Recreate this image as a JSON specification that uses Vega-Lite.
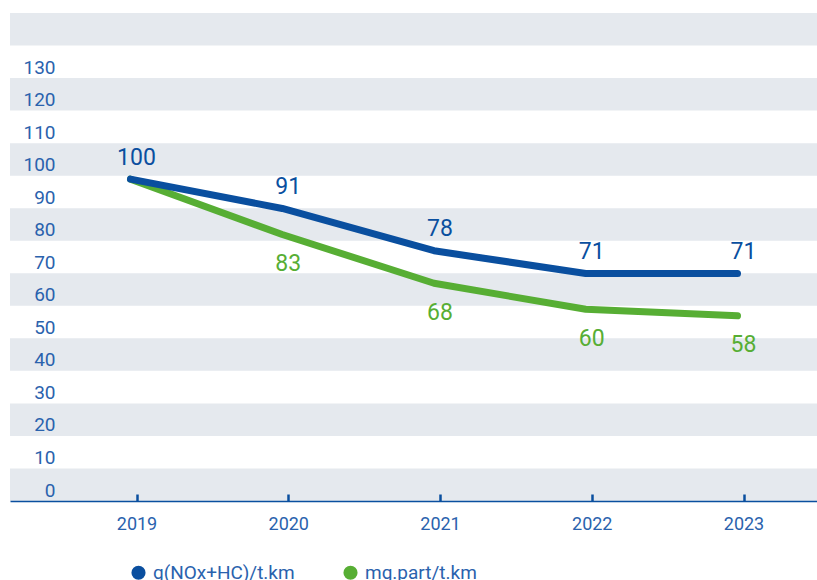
{
  "$schema": "https://vega.github.io/schema/vega-lite/v6.json",
  "width": 807,
  "height": 488,
  "autosize": {"type": "none"},
  "padding": {"left": 10, "top": 13, "right": 0, "bottom": 79},
  "background": "white",
  "config": {
    "view": {"stroke": null},
    "font": "Roboto",
    "text": {"font": "Roboto"},
    "axisY": {
      "domain": false, "ticks": false, "grid": false, "title": null, "labelOverlap": false,
      "labelAlign": "right", "labelPadding": -45, "labelBaseline": "alphabetic", "labelOffset": -5,
      "labelFont": "Roboto", "labelFontSize": 19, "labelColor": "#2a62ad"
    },
    "axisX": {
      "title": null, "grid": false, "labelOverlap": false,
      "domainColor": "#0a4f9f", "domainWidth": 1.5,
      "tickColor": "#0a4f9f", "tickSize": -7, "tickWidth": 2.5,
      "labelFont": "Roboto", "labelFontSize": 18, "labelColor": "#2a62ad", "labelPadding": 21
    }
  },
  "datasets": {
    "bands": [
      {"lo": 0, "hi": 10}, {"lo": 20, "hi": 30}, {"lo": 40, "hi": 50}, {"lo": 60, "hi": 70},
      {"lo": 80, "hi": 90}, {"lo": 100, "hi": 110}, {"lo": 120, "hi": 130}, {"lo": 140, "hi": 150}
    ],
    "series": [
      {"year": 2019, "value": 100, "series": "g(NOx+HC)/t.km", "label": "100"},
      {"year": 2020, "value": 91, "series": "g(NOx+HC)/t.km", "label": "91"},
      {"year": 2021, "value": 78, "series": "g(NOx+HC)/t.km", "label": "78"},
      {"year": 2022, "value": 71, "series": "g(NOx+HC)/t.km", "label": "71"},
      {"year": 2023, "value": 71, "series": "g(NOx+HC)/t.km", "label": "71"},
      {"year": 2019, "value": 100, "series": "mg.part/t.km", "label": ""},
      {"year": 2020, "value": 83, "series": "mg.part/t.km", "label": "83"},
      {"year": 2021, "value": 68, "series": "mg.part/t.km", "label": "68"},
      {"year": 2022, "value": 60, "series": "mg.part/t.km", "label": "60"},
      {"year": 2023, "value": 58, "series": "mg.part/t.km", "label": "58"}
    ]
  },
  "layer": [
    {
      "data": {"name": "bands"},
      "mark": {"type": "rect", "color": "#e5e9ee"},
      "encoding": {
        "y": {"field": "lo", "type": "quantitative", "scale": {"domain": [0, 150], "nice": false, "zero": false},
          "axis": {"values": [0, 10, 20, 30, 40, 50, 60, 70, 80, 90, 100, 110, 120, 130], "zindex": 1}},
        "y2": {"field": "hi"}
      }
    },
    {
      "data": {"name": "series"},
      "transform": [{"filter": "datum.series == 'mg.part/t.km'"}],
      "mark": {"type": "line", "strokeWidth": 7, "strokeCap": "round", "strokeJoin": "round"},
      "encoding": {
        "x": {"field": "year", "type": "quantitative",
          "scale": {"domain": [2018.1664, 2023.4843], "nice": false, "zero": false},
          "axis": {"values": [2019, 2020, 2021, 2022, 2023], "format": "d", "zindex": 1}},
        "y": {"field": "value", "type": "quantitative",
          "axis": {"values": [0, 10, 20, 30, 40, 50, 60, 70, 80, 90, 100, 110, 120, 130], "zindex": 1}},
        "xOffset": {"value": -6},
        "yOffset": {"value": 3.5},
        "color": {"field": "series", "type": "nominal",
          "scale": {"domain": ["g(NOx+HC)/t.km", "mg.part/t.km"], "range": ["#0a4f9f", "#57ae34"]},
          "legend": {
            "title": null, "orient": "none", "direction": "horizontal", "legendX": 119, "legendY": 550,
            "padding": 0, "symbolType": "circle", "symbolSize": 200, "labelFont": "Roboto", "labelFontSize": 19,
            "labelColor": "#2a62ad", "labelOffset": 5, "columnPadding": 46,
            "symbolStrokeWidth": 0,
            "encode": {"symbols": {"update": {"fill": {"scale": "color", "field": "value"}, "strokeWidth": {"value": 0}}}}
          }}
      }
    },
    {
      "data": {"name": "series"},
      "transform": [{"filter": "datum.series == 'g(NOx+HC)/t.km'"}],
      "mark": {"type": "line", "strokeWidth": 7, "strokeCap": "round", "strokeJoin": "round"},
      "encoding": {
        "x": {"field": "year", "type": "quantitative", "axis": {"values": [2019, 2020, 2021, 2022, 2023], "format": "d", "zindex": 1}},
        "y": {"field": "value", "type": "quantitative", "axis": {"values": [0, 10, 20, 30, 40, 50, 60, 70, 80, 90, 100, 110, 120, 130], "zindex": 1}},
        "xOffset": {"value": -6},
        "yOffset": {"value": 3.5},
        "color": {"field": "series", "type": "nominal"}
      }
    },
    {
      "data": {"name": "series"},
      "transform": [{"filter": "datum.series == 'g(NOx+HC)/t.km'"}],
      "mark": {"type": "text", "dy": -18, "fontSize": 23, "font": "Roboto", "baseline": "middle", "align": "center", "color": "#0a4f9f"},
      "encoding": {
        "x": {"field": "year", "type": "quantitative", "axis": {"values": [2019, 2020, 2021, 2022, 2023], "format": "d", "zindex": 1}},
        "y": {"field": "value", "type": "quantitative", "axis": {"values": [0, 10, 20, 30, 40, 50, 60, 70, 80, 90, 100, 110, 120, 130], "zindex": 1}},
        "text": {"field": "label"}
      }
    },
    {
      "data": {"name": "series"},
      "transform": [{"filter": "datum.series == 'mg.part/t.km'"}],
      "mark": {"type": "text", "dy": 33, "fontSize": 23, "font": "Roboto", "baseline": "middle", "align": "center", "color": "#57ae34"},
      "encoding": {
        "x": {"field": "year", "type": "quantitative", "axis": {"values": [2019, 2020, 2021, 2022, 2023], "format": "d", "zindex": 1}},
        "y": {"field": "value", "type": "quantitative", "axis": {"values": [0, 10, 20, 30, 40, 50, 60, 70, 80, 90, 100, 110, 120, 130], "zindex": 1}},
        "text": {"field": "label"}
      }
    }
  ]
}
